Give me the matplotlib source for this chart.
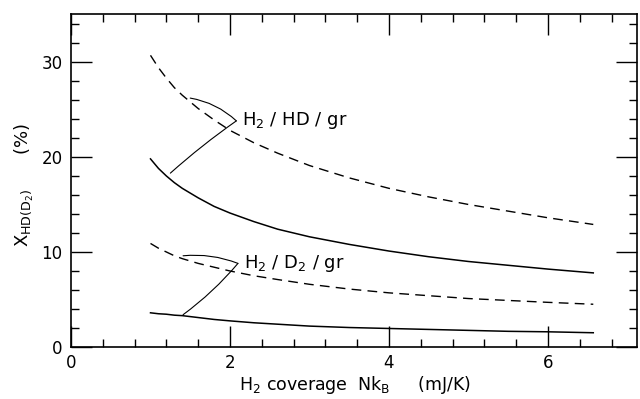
"""
HD / D2 fraction vs H2 coverage on graphite
"""

import matplotlib.pyplot as plt
from matplotlib.ticker import MultipleLocator

plt.rcParams["font.family"] = "DejaVu Sans"
plt.rcParams["mathtext.fontset"] = "dejavusans"

# data
hd_x = [1.0, 1.1, 1.2, 1.3, 1.4, 1.6, 1.8, 2.0, 2.3, 2.6, 3.0, 3.5, 4.0, 4.5, 5.0, 5.5, 6.0, 6.57]
hd_dashed = [30.7, 29.4, 28.3, 27.3, 26.5, 25.1, 23.9, 22.8, 21.5, 20.4, 19.1, 17.8, 16.7, 15.8, 15.0, 14.3, 13.6, 12.9]
hd_solid = [19.8, 18.8, 18.0, 17.3, 16.7, 15.7, 14.8, 14.1, 13.2, 12.4, 11.6, 10.8, 10.1, 9.5, 9.0, 8.6, 8.2, 7.8]

d2_x = [1.0, 1.1, 1.2, 1.3, 1.4, 1.6, 1.8, 2.0, 2.3, 2.6, 3.0, 3.5, 4.0, 4.5, 5.0, 5.5, 6.0, 6.57]
d2_dashed = [10.9, 10.4, 10.0, 9.6, 9.3, 8.8, 8.4, 8.0, 7.5, 7.1, 6.6, 6.1, 5.7, 5.4, 5.1, 4.9, 4.7, 4.5]
d2_solid = [3.6, 3.5, 3.45, 3.35, 3.3, 3.1, 2.9, 2.75, 2.55, 2.4, 2.2, 2.05, 1.95, 1.85, 1.75, 1.65, 1.6, 1.5]

fig = plt.figure(figsize=(6.4, 3.99), dpi=100)
ax = fig.add_axes([71 / 640, 1 - 347 / 399, (637 - 71) / 640, (347 - 14) / 399])

dash = (0, (7, 4.5))
ax.plot(hd_x, hd_dashed, color="black", lw=1.0, linestyle=dash)
ax.plot(hd_x, hd_solid, color="black", lw=1.1)
ax.plot(d2_x, d2_dashed, color="black", lw=1.0, linestyle=dash)
ax.plot(d2_x, d2_solid, color="black", lw=1.1)

# leader lines from the labels to the curves
lead = dict(arrowstyle="-", color="black", lw=0.8, shrinkA=0, shrinkB=0)
ax.annotate("", xy=(1.50, 26.2), xytext=(2.08, 23.8),
            arrowprops=dict(lead, connectionstyle="arc3,rad=0.15"))
ax.annotate("", xy=(1.25, 18.3), xytext=(2.08, 23.8),
            arrowprops=dict(lead, connectionstyle="arc3,rad=0.03"))
ax.annotate("", xy=(1.41, 9.6), xytext=(2.10, 8.8),
            arrowprops=dict(lead, connectionstyle="arc3,rad=0.12"))
ax.annotate("", xy=(1.41, 3.4), xytext=(2.10, 8.8),
            arrowprops=dict(lead, connectionstyle="arc3,rad=-0.06"))

ax.text(2.15, 23.8, r"H$_2$ / HD / gr", fontsize=13, va="center", ha="left")
ax.text(2.17, 8.8, r"H$_2$ / D$_2$ / gr", fontsize=13, va="center", ha="left")

ax.set_xlim(0, 7.12)
ax.set_ylim(0, 35.05)
ax.xaxis.set_major_locator(MultipleLocator(2))
ax.xaxis.set_minor_locator(MultipleLocator(0.4))
ax.yaxis.set_major_locator(MultipleLocator(10))
ax.yaxis.set_minor_locator(MultipleLocator(2))
ax.tick_params(which="both", direction="in", top=True, right=True, width=1.0)
ax.tick_params(which="major", length=15, labelsize=12, pad=6)
ax.tick_params(axis="x", which="major", pad=5)
ax.tick_params(which="minor", length=6)
for s in ax.spines.values():
    s.set_linewidth(1.2)

fig.text(355 / 640, 1 - 385 / 399, r"H$_2$ coverage  Nk$_{\rm B}$     (mJ/K)",
         fontsize=12.5, ha="center", va="center")
fig.text(24 / 640, 1 - 185 / 399, r"X$_{\rm HD(D_2)}$      (%)",
         fontsize=13, ha="center", va="center", rotation=90)

plt.savefig("out.png", dpi=100)
